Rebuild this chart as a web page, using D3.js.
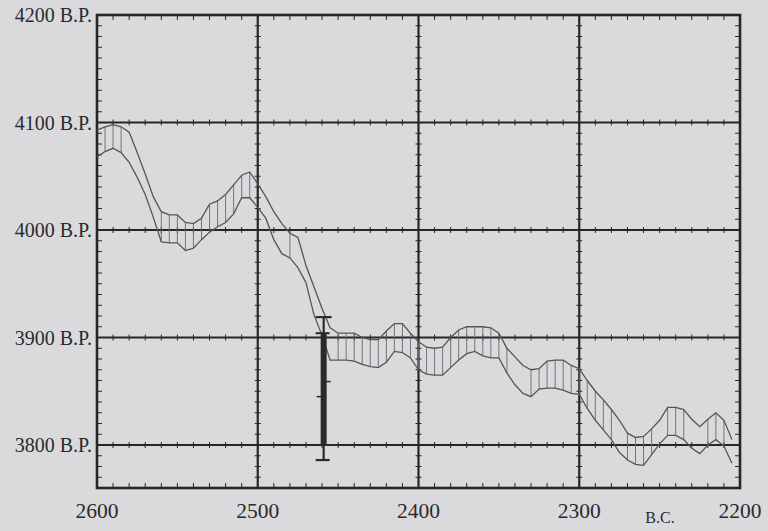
<!DOCTYPE html>
<html><head><meta charset="utf-8">
<script src="https://cdn.jsdelivr.net/npm/d3@7"></script>
<style>
html,body{margin:0;padding:0;background:#dadadd;}
svg{display:block;}
</style></head><body>
<svg id="chart" width="768" height="531"></svg>
<script>
// Calendar years (B.C.) at which the calibration band was read
const years = [2600,2595,2590,2585,2580,2575,2570,2565,2560,2555,2550,2545,2540,2535,2530,2525,2520,2515,2510,2505,
  2500,2495,2490,2485,2480,2475,2470,2465,2460,2455,2450,2445,2440,2435,2430,2425,2420,2415,2410,2405,
  2400,2395,2390,2385,2380,2375,2370,2365,2360,2355,2350,2345,2340,2335,2330,2325,2320,2315,2310,2305,
  2300,2295,2290,2285,2280,2275,2270,2265,2260,2255,2250,2245,2240,2235,2230,2225,2220,2215,2210,2205];
// Upper edge of the band (radiocarbon years B.P.)
const upperBP = [4093,4096,4098,4096,4091,4072,4052,4031,4017,4014,4014,4007,4006,4011,4024,4027,4033,4042,4051,4054,
  4043,4031,4017,4006,3997,3993,3967,3947,3927,3909,3904,3904,3904,3900,3898,3898,3906,3913,3913,3904,
  3896,3891,3890,3891,3900,3907,3910,3910,3910,3909,3904,3890,3882,3874,3870,3871,3878,3879,3879,3874,
  3871,3860,3850,3842,3833,3823,3811,3807,3808,3815,3823,3835,3835,3833,3824,3817,3824,3830,3823,3805];
// Lower edge of the band (radiocarbon years B.P.)
const lowerBP = [4068,4073,4076,4072,4063,4049,4033,4012,3989,3988,3988,3981,3983,3991,3998,4003,4007,4015,4030,4030,
  4021,4011,3991,3978,3974,3965,3951,3921,3902,3879,3879,3879,3878,3875,3873,3872,3877,3887,3886,3881,
  3870,3866,3865,3865,3872,3879,3885,3887,3883,3881,3881,3867,3856,3848,3845,3852,3853,3853,3851,3848,
  3847,3834,3823,3814,3805,3793,3786,3782,3781,3791,3801,3809,3809,3805,3797,3792,3800,3805,3799,3783];
// Years at which vertical hatch lines are drawn across the band
const hatchYears = [2595,2590,2585,2560,2555,2550,2545,2540,2535,2530,2525,2520,2515,2510,2505,2480,
  2450,2445,2440,2435,2430,2425,2420,2415,2410,2405,2400,2395,2390,2385,2380,2375,2370,2365,2360,2355,2350,2345,
  2330,2325,2320,2315,2310,2305,2300,2295,2290,2285,2280,2270,2265,2260,2255,2245,2240,2235,2220,2215,2210];
// Radiocarbon date (error bar)
const dateYear = 2459;
const dateOuter = [3786, 3919];
const dateInner = [3800, 3904];
const dateTicks = [3845, 3859];
// Axis labels
const xTicks = [2600, 2500, 2400, 2300, 2200];
const yTicks = [4200, 4100, 4000, 3900, 3800];
const yTickLabels = ["4200 B.P.", "4100 B.P.", "4000 B.P.", "3900 B.P.", "3800 B.P."];
const xUnit = "B.C.";

const svg = d3.select("#chart");
const L = 97, R = 740, T = 15, B = 488;
const x = d3.scaleLinear().domain([2600, 2200]).range([L, R]);
const y = d3.scaleLinear().domain([3760, 4200]).range([B, T]);

const ink = "#262628";
const g = svg.append("g");

// minor ticks along horizontal lines (every 10 years)
const minorX = d3.range(2600, 2199, -10);
const hLines = [4100, 4000, 3900, 3800];
hLines.forEach(v => {
  g.selectAll(null).data(minorX).enter().append("line")
    .attr("x1", d => x(d)).attr("x2", d => x(d))
    .attr("y1", y(v) - 3).attr("y2", y(v) + 3)
    .attr("stroke", ink).attr("stroke-width", 1);
});
g.selectAll(null).data(minorX).enter().append("line")
  .attr("x1", d => x(d)).attr("x2", d => x(d)).attr("y1", T).attr("y2", T + 5)
  .attr("stroke", ink).attr("stroke-width", 1);
g.selectAll(null).data(minorX).enter().append("line")
  .attr("x1", d => x(d)).attr("x2", d => x(d)).attr("y1", B).attr("y2", B - 5)
  .attr("stroke", ink).attr("stroke-width", 1);
// minor ticks along vertical lines (every 10 B.P.)
const minorY = d3.range(3770, 4200, 10);
[2500, 2400, 2300].forEach(v => {
  g.selectAll(null).data(minorY).enter().append("line")
    .attr("y1", d => y(d)).attr("y2", d => y(d))
    .attr("x1", x(v) - 3).attr("x2", x(v) + 3)
    .attr("stroke", ink).attr("stroke-width", 1);
});
g.selectAll(null).data(minorY).enter().append("line")
  .attr("y1", d => y(d)).attr("y2", d => y(d)).attr("x1", L).attr("x2", L + 5)
  .attr("stroke", ink).attr("stroke-width", 1);
g.selectAll(null).data(minorY).enter().append("line")
  .attr("y1", d => y(d)).attr("y2", d => y(d)).attr("x1", R).attr("x2", R - 5)
  .attr("stroke", ink).attr("stroke-width", 1);

// grid lines
g.selectAll(null).data(hLines).enter().append("line")
  .attr("x1", L).attr("x2", R).attr("y1", d => y(d)).attr("y2", d => y(d))
  .attr("stroke", ink).attr("stroke-width", 2);
g.selectAll(null).data([2500, 2400, 2300]).enter().append("line")
  .attr("y1", T).attr("y2", B).attr("x1", d => x(d)).attr("x2", d => x(d))
  .attr("stroke", ink).attr("stroke-width", 2.2);
// frame
g.append("rect").attr("x", L).attr("y", T).attr("width", R - L).attr("height", B - T)
  .attr("fill", "none").attr("stroke", ink).attr("stroke-width", 2.6);

// band
const band = years.map((yr, i) => ({yr, up: upperBP[i], lo: lowerBP[i]}));
const byYear = new Map(band.map(d => [d.yr, d]));
const curve = svg.append("g");
curve.selectAll(null).data(hatchYears).enter().append("line")
  .attr("x1", d => x(d)).attr("x2", d => x(d))
  .attr("y1", d => y(byYear.get(d).up)).attr("y2", d => y(byYear.get(d).lo))
  .attr("stroke", "#6a6a6e").attr("stroke-width", 0.9);
const lineUp = d3.line().x(d => x(d.yr)).y(d => y(d.up));
const lineLo = d3.line().x(d => x(d.yr)).y(d => y(d.lo));
curve.append("path").attr("d", lineUp(band)).attr("fill", "none")
  .attr("stroke", "#555558").attr("stroke-width", 1.3);
curve.append("path").attr("d", lineLo(band)).attr("fill", "none")
  .attr("stroke", "#555558").attr("stroke-width", 1.3);

// error bar
const eb = svg.append("g");
const ex = x(dateYear);
eb.append("line").attr("x1", ex).attr("x2", ex).attr("y1", y(dateOuter[0])).attr("y2", y(dateOuter[1]))
  .attr("stroke", "#2a2a2c").attr("stroke-width", 2.2);
eb.append("rect").attr("x", ex - 3).attr("width", 6)
  .attr("y", y(dateInner[1])).attr("height", y(dateInner[0]) - y(dateInner[1]))
  .attr("fill", "#2a2a2c");
eb.append("line").attr("x1", ex - 8).attr("x2", ex + 8).attr("y1", y(dateOuter[1])).attr("y2", y(dateOuter[1]))
  .attr("stroke", "#2a2a2c").attr("stroke-width", 2.2);
eb.append("line").attr("x1", ex - 8).attr("x2", ex + 6).attr("y1", y(dateOuter[0])).attr("y2", y(dateOuter[0]))
  .attr("stroke", "#2a2a2c").attr("stroke-width", 2.2);
eb.append("line").attr("x1", ex - 8).attr("x2", ex + 6).attr("y1", y(dateInner[1])).attr("y2", y(dateInner[1]))
  .attr("stroke", "#2a2a2c").attr("stroke-width", 2);
eb.append("line").attr("x1", ex - 3).attr("x2", ex + 10).attr("y1", y(dateInner[0])).attr("y2", y(dateInner[0]))
  .attr("stroke", "#2a2a2c").attr("stroke-width", 2);
eb.selectAll(null).data(dateTicks).enter().append("line")
  .attr("x1", (d, i) => i === 0 ? ex - 7 : ex).attr("x2", (d, i) => i === 0 ? ex : ex + 7)
  .attr("y1", d => y(d)).attr("y2", d => y(d))
  .attr("stroke", "#2a2a2c").attr("stroke-width", 1.5);

// labels
const font = "'Liberation Serif', 'Times New Roman', serif";
svg.selectAll(null).data(yTicks).enter().append("text")
  .attr("x", 92).attr("y", d => y(d)).attr("dy", "0.35em")
  .attr("text-anchor", "end").attr("font-family", font).attr("font-size", 20)
  .attr("fill", "#2a2a2c").text((d, i) => yTickLabels[i]);
svg.selectAll(null).data(xTicks).enter().append("text")
  .attr("x", d => x(d)).attr("y", 518)
  .attr("text-anchor", "middle").attr("font-family", font).attr("font-size", 21.5)
  .attr("fill", "#2a2a2c").text(d => d);
svg.append("text").attr("x", 660).attr("y", 523).attr("text-anchor", "middle")
  .attr("font-family", font).attr("font-size", 16).attr("fill", "#2a2a2c").text(xUnit);
</script>
</body></html>
